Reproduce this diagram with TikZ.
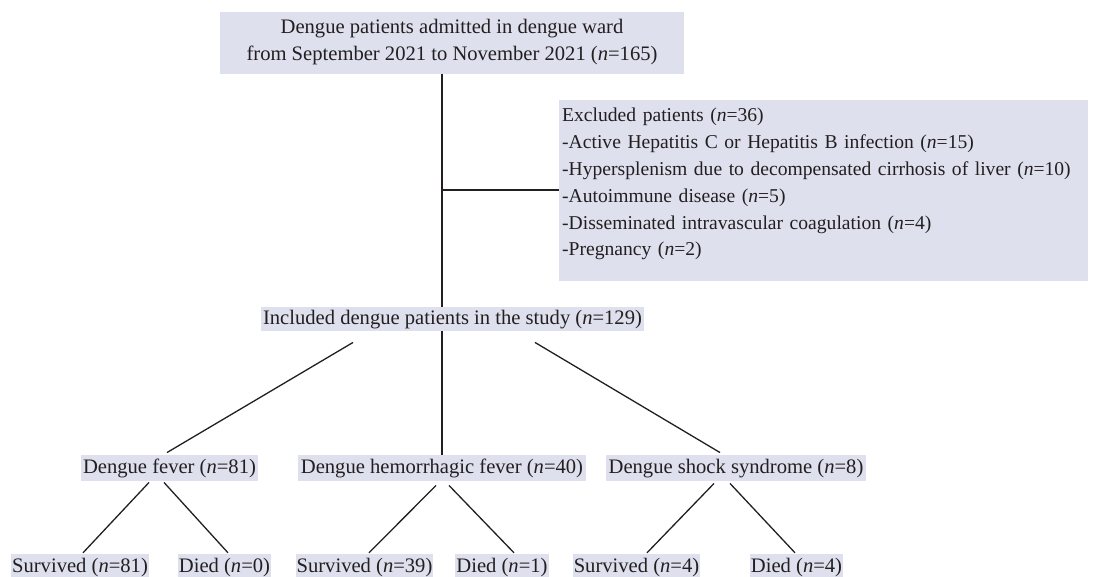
\documentclass[tikz,border=0pt]{standalone}
\usepackage{fontspec}
\setmainfont{Liberation Serif}
\definecolor{boxfill}{HTML}{DFE0EE}
\definecolor{ink}{HTML}{231F20}
\newcommand{\nn}{\textit{n}}
\begin{document}
\begin{tikzpicture}[x=1pt,y=-1pt,
  every node/.style={font=\fontsize{20.6}{27}\selectfont, text=ink},
  boxnode/.style={fill=boxfill, inner xsep=2.5pt, inner ysep=3.75pt, text height=14.5pt, text depth=4.5pt},
  leafnode/.style={fill=boxfill, inner xsep=1pt, inner ysep=3.5pt, text height=14.5pt, text depth=4.5pt},
  link/.style={draw=ink, line width=1.3pt}]
\useasboundingbox (0,0) rectangle (1094,576);
\node[fill=boxfill, minimum width=464pt, minimum height=62pt, align=center, inner sep=0pt] (top) at (452,42.5)
  {Dengue patients admitted in dengue ward\\from September 2021 to November 2021 (\nn=165)};
\node[fill=boxfill, anchor=north west, text width=523pt, align=left, inner xsep=3pt, inner ysep=8pt,
      font=\fontsize{19.6}{26.8}\selectfont] (excl) at (559,100)
  {Excluded patients (\nn=36)\\
   -Active Hepatitis C or Hepatitis B infection (\nn=15)\\
   -Hypersplenism due to decompensated cirrhosis of liver (\nn=10)\\
   -Autoimmune disease (\nn=5)\\
   -Disseminated intravascular coagulation (\nn=4)\\
   -Pregnancy (\nn=2)\rule[-17.5pt]{0pt}{1pt}};
\node[boxnode, inner ysep=2.75pt] (incl) at (452.5,319) {Included dengue patients in the study (\nn=129)};
\node[boxnode] (df) at (169.5,468) {Dengue fever (\nn=81)};
\node[boxnode] (dhf) at (442,468) {Dengue hemorrhagic fever (\nn=40)};
\node[boxnode] (dss) at (736,468) {Dengue shock syndrome (\nn=8)};
\node[leafnode] (s1) at (80,567) {Survived (\nn=81)};
\node[leafnode] (d1) at (224.5,567) {Died (\nn=0)};
\node[leafnode] (s2) at (364.5,567) {Survived (\nn=39)};
\node[leafnode] (d2) at (502,567) {Died (\nn=1)};
\node[leafnode] (s3) at (636.5,567) {Survived (\nn=4)};
\node[leafnode] (d3) at (796.5,567) {Died (\nn=4)};
% trunk
\coordinate (branch) at (442,190);
\draw[link] ([xshift=-10pt]top.south) -- ([xshift=-10.5pt]incl.north);
\draw[link] (branch) -- (excl.west |- branch);
% included to groups
\draw[link] ([xshift=-99.5pt,yshift=-11pt]incl.south) -- ([xshift=-2.5pt,yshift=2pt]df.north);
\draw[link] ([xshift=-10.5pt]incl.south) -- (dhf.north);
\draw[link] ([xshift=82.5pt,yshift=-11pt]incl.south) -- ([xshift=-16pt,yshift=2pt]dss.north);
% groups to outcomes
\draw[link] ([xshift=-20.5pt,yshift=-1pt]df.south) -- ([xshift=3pt,yshift=1pt]s1.north);
\draw[link] ([xshift=-5.5pt,yshift=-1pt]df.south) -- ([xshift=3.5pt,yshift=1pt]d1.north);
\draw[link] ([xshift=-6pt,yshift=-4pt]dhf.south) -- ([xshift=4.5pt,yshift=1pt]s2.north);
\draw[link] ([xshift=7pt,yshift=-4pt]dhf.south) -- ([xshift=12pt,yshift=1pt]d2.north);
\draw[link] ([xshift=-22pt,yshift=-2pt]dss.south) -- ([xshift=10.5pt,yshift=1pt]s3.north);
\draw[link] ([xshift=-6pt,yshift=-2pt]dss.south) -- ([xshift=-1.5pt,yshift=1pt]d3.north);
\end{tikzpicture}
\end{document}
